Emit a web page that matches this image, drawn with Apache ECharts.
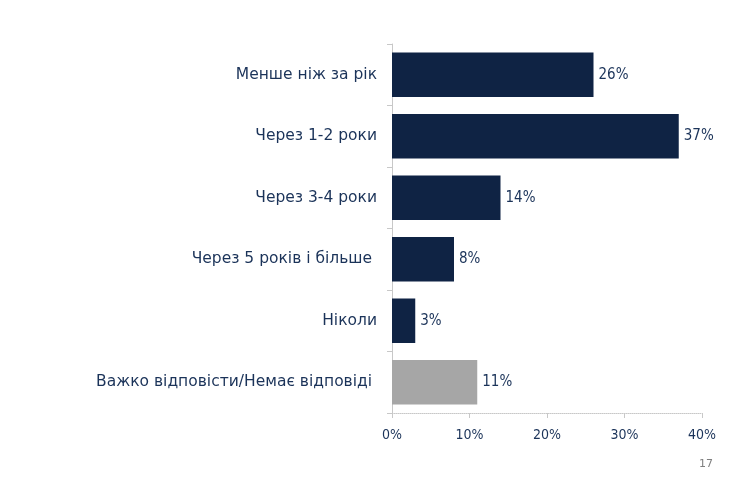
<!DOCTYPE html>
<html>
<head>
<meta charset="utf-8">
<script src="https://cdn.jsdelivr.net/npm/echarts@6/dist/echarts.min.js"></script>
<style>
  html, body { margin: 0; padding: 0; background: #ffffff; }
  #chart { width: 740px; height: 478px; }
</style>
</head>
<body>
<div id="chart"></div>
<script>
// Categories listed top to bottom
const categories = [
  'Менше ніж за рік',
  'Через 1-2 роки',
  'Через 3-4 роки',
  'Через 5 років і більше ',
  'Ніколи',
  'Важко відповісти/Немає відповіді '
];
// Share of respondents, %
const values = [26, 37, 14, 8, 3, 11];
// Last category is a "no answer" group, drawn in grey
const isNoAnswer = [false, false, false, false, false, true];
const xTicks = [0, 10, 20, 30, 40];

const navy = '#0f2344';
const grey = '#a6a6a6';
const textColor = '#1b3359';
const textFont = '"DejaVu Sans", sans-serif';
const numFont = '"DejaVu Sans Condensed", "DejaVu Sans", sans-serif';

const chart = echarts.init(document.getElementById('chart'));
chart.setOption({
  backgroundColor: '#ffffff',
  animation: false,
  grid: { left: 392, right: 38, top: 44, bottom: 65, containLabel: false },
  xAxis: {
    type: 'value',
    min: xTicks[0],
    max: xTicks[xTicks.length - 1],
    interval: 10,
    splitLine: { show: false },
    axisLine: { show: true, lineStyle: { color: '#c8c8c8', type: 'dotted', width: 1 } },
    axisTick: { show: true, length: 5, lineStyle: { color: '#c8c8c8' } },
    axisLabel: {
      formatter: v => v + '%',
      color: textColor, fontFamily: numFont, fontSize: 14, margin: 15
    }
  },
  yAxis: {
    type: 'category',
    inverse: true,
    data: categories,
    axisLine: { show: true, lineStyle: { color: '#c8c8c8', width: 1 } },
    axisTick: { show: true, length: 5, lineStyle: { color: '#c8c8c8' } },
    axisLabel: {
      color: textColor, fontFamily: textFont, fontSize: 15.5, margin: 15
    }
  },
  series: [{
    type: 'bar',
    barWidth: '72%',
    data: values.map((v, i) => ({
      value: v,
      itemStyle: { color: isNoAnswer[i] ? grey : navy }
    })),
    label: {
      show: true,
      position: 'right',
      distance: 5,
      formatter: p => p.value + '%',
      color: textColor, fontFamily: numFont, fontSize: 15
    }
  }],
  graphic: [{
    type: 'text',
    right: 27,
    top: 459,
    style: { text: '17', fill: '#7f7f7f', font: '11px "DejaVu Sans"' }
  }]
});
</script>
</body>
</html>
